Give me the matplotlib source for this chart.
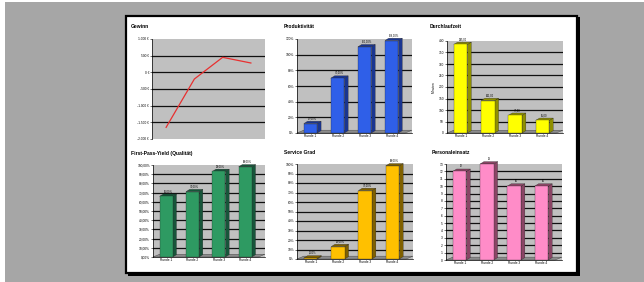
import matplotlib
matplotlib.use("Agg")
import matplotlib.pyplot as plt
from matplotlib.patches import Rectangle, Polygon

plt.rcParams['font.family'] = ['Liberation Sans', 'DejaVu Sans']

W, H = 644, 282

runden = ["Runde 1", "Runde 2", "Runde 3", "Runde 4"]

gewinn = [-1650, -200, 450, 280]
gewinn_ticks = [-2000, -1500, -1000, -500, 0, 500, 1000]
gewinn_labels = ["-2.000 €", "-1.500 €", "-1.000 €", "-500 €", "0 €", "500 €", "1.000 €"]

produktivitaet = [12, 70, 110, 118]
durchlaufzeit = [385, 141, 77, 55]
fpy = [66, 71, 93, 98]
service_grad = [1, 13, 72, 98]
personal = [12, 13, 10, 10]


def px_axes(fig, l, t, r, b):
    return fig.add_axes([l / W, 1 - b / H, (r - l) / W, (b - t) / H])


def title(fig, x, y, s):
    fig.text(x / W, 1 - y / H, s, fontsize=3.6, fontweight='bold', va='center', ha='left')


def style(ax, ymax, step, fmt, grid_color='#101010'):
    ax.set_facecolor('#c0c0c0')
    ax.set_xlim(-0.5, 3.75)
    ax.set_ylim(0, ymax)
    ticks = list(range(0, ymax + 1, step))
    ax.set_yticks(ticks)
    ax.set_yticklabels([fmt(t) for t in ticks])
    ax.set_xticks(range(4))
    ax.set_xticklabels(runden)
    ax.tick_params(axis='both', labelsize=2.3, length=1.2, width=0.4, pad=1)
    ax.tick_params(axis='x', length=0)
    for t in ticks[1:-1]:
        ax.axhline(t, color=grid_color, lw=0.9, zorder=1)
    for s in ['top', 'right']:
        ax.spines[s].set_visible(False)
    ax.spines['left'].set_linewidth(0.5)
    ax.spines['bottom'].set_linewidth(0.5)
    # floor
    dy = ymax * 0.03
    ax.add_patch(Polygon([(-0.5, 0), (3.5, 0), (3.75, dy), (-0.25, dy)], closed=True,
                         facecolor='#8c8c8c', edgecolor='#404040', lw=0.3, zorder=1.5,
                         clip_on=False))


def bars3d(ax, values, face, side, ymax, labels):
    w = 0.5
    dx = 0.14
    dy = ymax * 0.025
    for i, v in enumerate(values):
        x0 = i - w / 2
        x1 = i + w / 2
        ax.add_patch(Polygon([(x1, 0), (x1 + dx, dy), (x1 + dx, v + dy), (x1, v)], closed=True,
                             facecolor=side, edgecolor='#202020', lw=0.2, zorder=3,
                             clip_on=False))
        ax.add_patch(Polygon([(x0, v), (x1, v), (x1 + dx, v + dy), (x0 + dx, v + dy)], closed=True,
                             facecolor=side, edgecolor='#202020', lw=0.2, zorder=3,
                             clip_on=False))
        b = ax.bar(i, v, width=w, color=face, edgecolor='#202020', lw=0.2, zorder=4)
        for p in b:
            p.set_clip_on(False)
        ax.text(i + dx / 2, v + dy * 1.4, labels[i], fontsize=1.9, ha='center', va='bottom',
                zorder=5, clip_on=False)


fig = plt.figure(figsize=(W / 100, H / 100), dpi=100)
fig.patch.set_facecolor('white')
fig.add_artist(Rectangle((5 / W, 0), 1, 1 - 2 / H, transform=fig.transFigure,
                         facecolor='#a6a6a6', edgecolor='none', zorder=-3))
fig.add_artist(Rectangle((128 / W, 1 - 276 / H), 452 / W, 259 / H, transform=fig.transFigure,
                         facecolor='black', edgecolor='none', zorder=-2))
fig.add_artist(Rectangle((126 / W, 1 - 273 / H), 451 / W, 257 / H, transform=fig.transFigure,
                         facecolor='white', edgecolor='black', lw=1.6, zorder=-1))

# Gewinn
title(fig, 131, 27, "Gewinn")
ax = px_axes(fig, 152, 39, 265, 139)
ax.set_facecolor('#c0c0c0')
ax.set_xlim(-0.5, 3.5)
ax.set_ylim(-2000, 1000)
ax.set_yticks(gewinn_ticks)
ax.set_yticklabels(gewinn_labels)
for t in gewinn_ticks[1:-1]:
    ax.axhline(t, color='#101010', lw=0.9, zorder=1)
ax.plot(range(4), gewinn, color='#e83030', lw=0.9, zorder=3)
ax.set_xticks([])
ax.tick_params(axis='y', labelsize=2.3, length=1.2, width=0.4, pad=1)
for s in ['top', 'right', 'bottom']:
    ax.spines[s].set_visible(False)
ax.spines['left'].set_linewidth(0.5)

# Produktivität
title(fig, 284, 27, "Produktivität")
ax = px_axes(fig, 297, 39, 412, 133)
style(ax, 120, 20, lambda t: f"{t}%")
bars3d(ax, produktivitaet, '#2f5fe8', '#1a3590', 120,
       [f"{v},00%" for v in produktivitaet])

# Durchlaufzeit
title(fig, 430, 27, "Durchlaufzeit")
ax = px_axes(fig, 447, 41, 563, 133)
style(ax, 400, 50, lambda t: f"{t}")
ax.set_ylabel("Minuten", fontsize=2.3, labelpad=2)
bars3d(ax, durchlaufzeit, '#ffff00', '#8f8f00', 400,
       [f"{v},00" for v in durchlaufzeit])

# First-Pass-Yield
title(fig, 131, 153, "First-Pass-Yield (Qualität)")
ax = px_axes(fig, 153, 165, 265, 257)
style(ax, 100, 10, lambda t: f"{t},00%")
bars3d(ax, fpy, '#2e9a62', '#17553a', 100, [f"{v},00%" for v in fpy])

# Service Grad
title(fig, 284, 153, "Service Grad")
ax = px_axes(fig, 297, 164, 413, 259)
style(ax, 100, 10, lambda t: f"{t}%")
bars3d(ax, service_grad, '#ffc000', '#7f6000', 100,
       [f"{v},00%" for v in service_grad])

# Personaleinsatz
title(fig, 432, 153, "Personaleinsatz")
ax = px_axes(fig, 446, 164, 562, 260)
style(ax, 13, 1, lambda t: f"{t}")
bars3d(ax, personal, '#ff8cc8', '#8a4565', 13, [f"{v}" for v in personal])

fig.savefig("out.png", dpi=100)
